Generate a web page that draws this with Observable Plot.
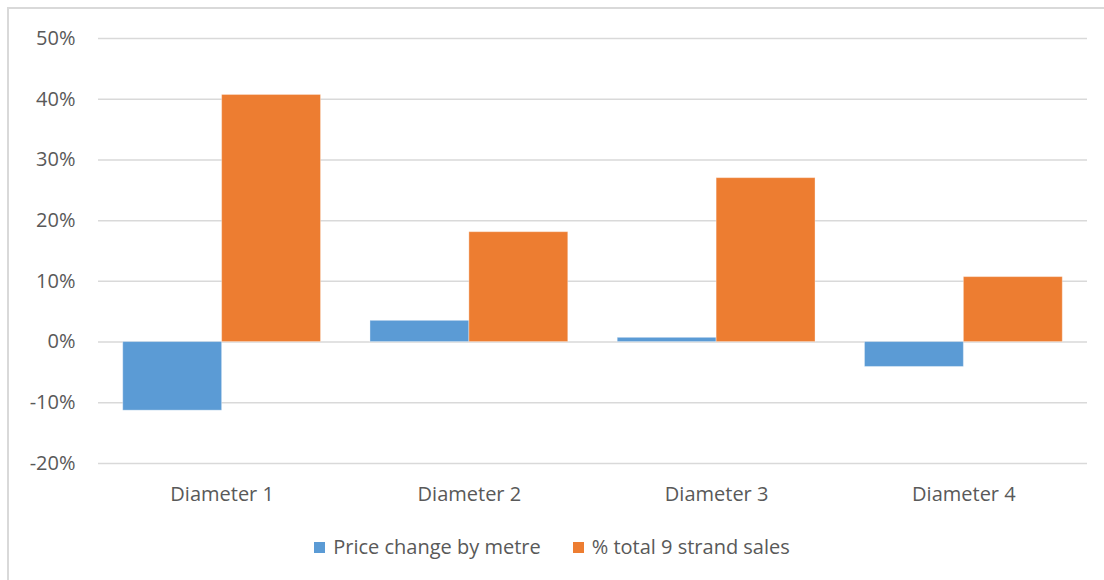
<!DOCTYPE html>
<html>
<head>
<meta charset="utf-8">
<script src="https://cdn.jsdelivr.net/npm/d3@7"></script>
<script src="https://cdn.jsdelivr.net/npm/@observablehq/plot@0.6"></script>
<style>
  body { margin: 0; background: #fff; }
  #wrap { position: relative; width: 1104px; height: 580px; overflow: hidden; font-family: "Open Sans", sans-serif; }
  #frame { position: absolute; left: 7px; top: 7px; width: 1200px; height: 700px; border-top: 2px solid #d9d9d9; border-left: 2px solid #d9d9d9; }
  #chart { position: absolute; left: 0; top: 0; }
  #legend { position: absolute; top: 533px; left: 0; width: 1104px; display: flex; justify-content: center; gap: 32px; font-size: 20px; color: #595959; line-height: 28px; }
  .item { display: flex; align-items: center; }
  .sw { width: 11px; height: 11px; margin-right: 8px; }
</style>
</head>
<body>
<div id="wrap">
  <div id="frame"></div>
  <div id="chart"></div>
  <div id="legend"></div>
</div>
<script>
const categories = ["Diameter 1", "Diameter 2", "Diameter 3", "Diameter 4"];
const seriesNames = ["Price change by metre", "% total 9 strand sales"];
const priceChange = [-0.113, 0.035, 0.007, -0.041];
const strandSales = [0.407, 0.181, 0.270, 0.107];
const colors = ["#5B9BD5", "#ED7D31"];
const yTicks = [-0.2, -0.1, 0, 0.1, 0.2, 0.3, 0.4, 0.5];

// grouped layout in category-index units: each bar is 0.4 of a category step
const barW = 0.4;
const data = [];
categories.forEach((c, i) => {
  data.push({i, cat: c, series: seriesNames[0], value: priceChange[i], x1: i - barW, x2: i});
  data.push({i, cat: c, series: seriesNames[1], value: strandSales[i], x1: i, x2: i + barW});
});

const plot = Plot.plot({
  width: 1104,
  height: 520,
  marginLeft: 98,
  marginRight: 17,
  marginTop: 38,
  marginBottom: 57,
  style: {fontFamily: "Open Sans, sans-serif", fontSize: "20px", color: "#595959", background: "transparent", overflow: "visible"},
  x: {domain: [-0.5, categories.length - 0.5], axis: null},
  y: {domain: [-0.2, 0.5], axis: null},
  color: {domain: seriesNames, range: colors},
  marks: [
    Plot.gridY(yTicks, {stroke: "#d9d9d9", strokeOpacity: 1, strokeWidth: 1.5}),
    Plot.axisY(yTicks, {anchor: "left", tickSize: 0, tickPadding: 23, tickFormat: d => Math.round(d * 100) + "%", label: null, fill: "#595959"}),
    Plot.axisX(d3.range(categories.length), {anchor: "bottom", tickSize: 0, tickPadding: 23, tickFormat: i => categories[i], label: null, fill: "#595959"}),
    Plot.rectY(data, {x1: "x1", x2: "x2", y: "value", fill: "series", stroke: "#ffffff", strokeOpacity: 0.35, strokeWidth: 1})
  ]
});
document.getElementById("chart").appendChild(plot);

const legend = document.getElementById("legend");
seriesNames.forEach((s, i) => {
  const it = document.createElement("div");
  it.className = "item";
  const sw = document.createElement("div");
  sw.className = "sw";
  sw.style.background = colors[i];
  it.appendChild(sw);
  const t = document.createElement("span");
  t.textContent = s;
  it.appendChild(t);
  legend.appendChild(it);
});
</script>
</body>
</html>
